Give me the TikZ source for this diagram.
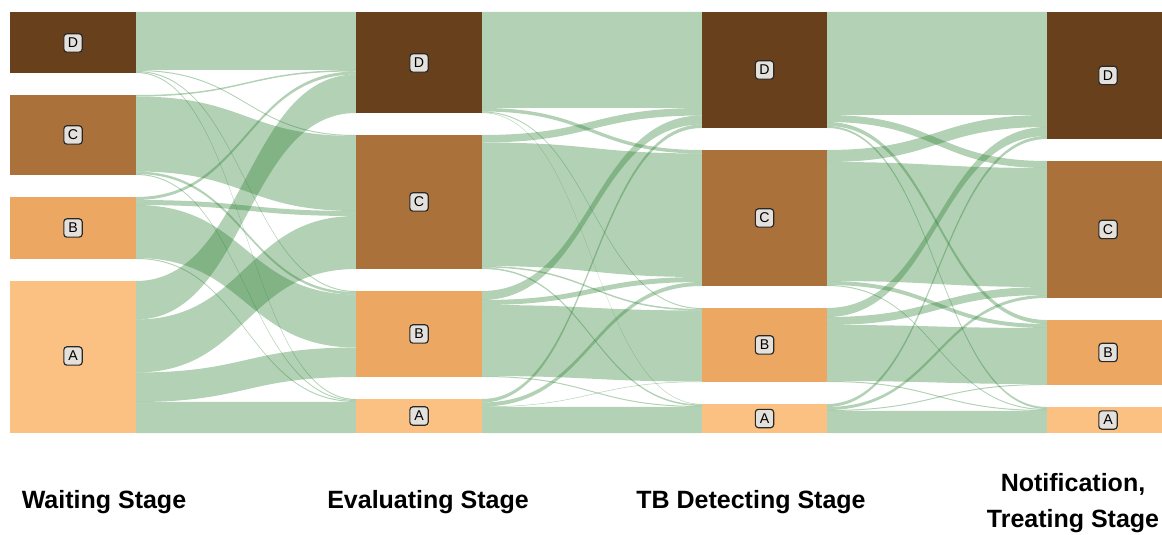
\documentclass[tikz,border=0pt]{standalone}
\usepackage{fontspec}
\setmainfont{Liberation Sans}
\usepackage{tikz}

\definecolor{stD}{RGB}{104,64,27}
\definecolor{stC}{RGB}{170,113,58}
\definecolor{stB}{RGB}{236,168,98}
\definecolor{stA}{RGB}{251,193,131}
\definecolor{flowgreen}{RGB}{36,124,44}
\definecolor{tagfill}{RGB}{228,224,220}
\definecolor{tagline}{RGB}{40,40,40}

\begin{document}
\begin{tikzpicture}[x=0.6pt,y=-0.6pt,
  flow/.style={fill=flowgreen,fill opacity=0.35},
  tag/.style={draw=tagline,fill=tagfill,line width=0.7pt,rounded corners=1.8pt,
    minimum size=11pt,inner sep=0pt,font=\fontsize{8.5}{10}\selectfont},
  stage/.style={font=\fontsize{15}{21.6}\selectfont\bfseries,align=center}]

\useasboundingbox (0,0) rectangle (1162,535);

% waiting -> evaluating
\foreach \ta/\ba/\tb/\bb in {12/70/12/70, 70/71/135/136, 71/72/291/292, 72/73/399/400,
    95/96.5/70/71.5, 96.5/171.5/136/211, 171.5/174/292/294.5, 174/175/400/401,
    197/200/71.5/74.5, 200/205/211/216, 205/258/294.5/347.5, 258/259/401/402,
    281/319.5/74.5/113, 319.5/372.5/216/269, 372.5/402/347.5/377, 402/433/402/433}
  \fill[flow] (136,\ta) .. controls (246,\ta) and (246,\tb) .. (356,\tb)
    -- (356,\bb) .. controls (246,\bb) and (246,\ba) .. (136,\ba) -- cycle;

% evaluating -> detecting
\foreach \ta/\ba/\tb/\bb in {12/108/12/108, 108/111.5/150/153.5, 111.5/112.5/308/309, 112.5/113/404/404.5,
    135/142.5/108/115.5, 142.5/266/153.5/277, 266/267.5/309/310.5, 267.5/269/404.5/406,
    291/300/115.5/124.5, 300/305/277/282, 305/376/310.5/381.5, 376/377/406/407,
    399/402.5/124.5/128, 402.5/406.5/282/286, 406.5/407/381.5/382, 407/433/407/433}
  \fill[flow] (482,\ta) .. controls (592,\ta) and (592,\tb) .. (702,\tb)
    -- (702,\bb) .. controls (592,\bb) and (592,\ba) .. (482,\ba) -- cycle;

% detecting -> treating
\foreach \ta/\ba/\tb/\bb in {12/115/12/115, 115/122/161/168, 122/126/320/324, 126/128/407/409,
    150/162/115/127, 162/281/168/287, 281/285/324/328, 285/286/409/410,
    308/317/127/136, 317/325/287/295, 325/381/328/384, 381/382/410/411,
    404/407/136/139, 407/410/295/298, 410/411/384/385, 411/433/411/433}
  \fill[flow] (827,\ta) .. controls (937,\ta) and (937,\tb) .. (1047,\tb)
    -- (1047,\bb) .. controls (937,\bb) and (937,\ba) .. (827,\ba) -- cycle;

% stage blocks
\fill[stD] (10,12) rectangle (136,73);
\fill[stC] (10,95) rectangle (136,175);
\fill[stB] (10,197) rectangle (136,259);
\fill[stA] (10,281) rectangle (136,433);

\fill[stD] (356,12) rectangle (482,113);
\fill[stC] (356,135) rectangle (482,269);
\fill[stB] (356,291) rectangle (482,377);
\fill[stA] (356,399) rectangle (482,433);

\fill[stD] (702,12) rectangle (827,128);
\fill[stC] (702,150) rectangle (827,286);
\fill[stB] (702,308) rectangle (827,382);
\fill[stA] (702,404) rectangle (827,433);

\fill[stD] (1047,12) rectangle (1172,139);
\fill[stC] (1047,161) rectangle (1172,298);
\fill[stB] (1047,320) rectangle (1172,385);
\fill[stA] (1047,407) rectangle (1172,433);

% tags
\node[tag] (w-D) at (73,43) {D};
\node[tag] (w-C) at (73,135) {C};
\node[tag] (w-B) at (73,228) {B};
\node[tag] (w-A) at (73,356) {A};

\node[tag] (e-D) at (419,63) {D};
\node[tag] (e-C) at (419,202) {C};
\node[tag] (e-B) at (419,334) {B};
\node[tag] (e-A) at (419,416) {A};

\node[tag] (t-D) at (764.5,70) {D};
\node[tag] (t-C) at (764.5,218) {C};
\node[tag] (t-B) at (764.5,345) {B};
\node[tag] (t-A) at (764.5,418.5) {A};

\node[tag] (n-D) at (1108,75.5) {D};
\node[tag] (n-C) at (1108,229.5) {C};
\node[tag] (n-B) at (1108,352.5) {B};
\node[tag] (n-A) at (1108,420) {A};

% stage names
\node[stage] (waiting) at (104,502) {Waiting Stage};
\node[stage] (evaluating) at (428,502) {Evaluating Stage};
\node[stage] (detecting) at (751,502) {TB Detecting Stage};
\node[stage] (treating) at (1073,503) {Notification,\\Treating Stage};
\end{tikzpicture}
\end{document}
